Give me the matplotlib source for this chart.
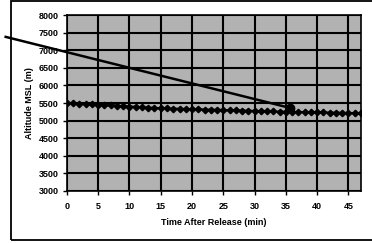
import matplotlib
matplotlib.use('Agg')
from matplotlib import pyplot as plt
from matplotlib.patches import Rectangle

# data
release_t = [-9.8, 35.7]
release_alt = [7380, 5360]

drift_t = list(range(0, 48))
drift_alt = [5500, 5490, 5480, 5470, 5460, 5450, 5440, 5430, 5420, 5410,
             5400, 5390, 5380, 5370, 5360, 5350, 5345, 5340, 5335, 5330,
             5325, 5320, 5315, 5310, 5305, 5300, 5295, 5290, 5285, 5280,
             5275, 5270, 5265, 5260, 5255, 5250, 5248, 5245, 5242, 5240,
             5236, 5232, 5228, 5224, 5220, 5216, 5212, 5208]

xticks = list(range(0, 50, 5))
yticks = list(range(3000, 8500, 500))

plt.rcParams['font.family'] = ['Liberation Sans', 'DejaVu Sans']

fig = plt.figure(figsize=(3.72, 2.43), dpi=100)
ax = fig.add_axes([0.180, 0.214, 0.790, 0.724])
ax.set_facecolor('#b2b2b2')

ax.plot(drift_t, drift_alt, color='black', lw=1.6, marker='D', ms=3.3, zorder=3)
ax.plot(release_t, release_alt, color='black', lw=1.8, clip_on=False, zorder=4)
ax.plot(release_t[-1:], release_alt[-1:], 'o', color='black', ms=6, zorder=5)

ax.set_xlim(0, 47)
ax.set_ylim(3000, 8000)
ax.set_xticks(xticks)
ax.set_yticks(yticks)
ax.grid(True, color='black', lw=1.5)
ax.set_axisbelow(True)
for s in ax.spines.values():
    s.set_color('black')
    s.set_linewidth(1.2)
ax.tick_params(direction='out', length=3, width=1, labelsize=6.5)
ax.tick_params(axis='x', pad=5)
ax.tick_params(axis='y', pad=3)
for lbl in ax.get_xticklabels() + ax.get_yticklabels():
    lbl.set_fontweight('bold')

ax.set_xlabel('Time After Release (min)', fontsize=6.5, fontweight='bold', labelpad=5)
ax.set_ylabel('Altitude MSL (m)', fontsize=6.5, fontweight='bold', labelpad=3)

# frame of the scanned figure
fig.patches.append(Rectangle((11 / 372, 3 / 243), 370 / 372, 239 / 243,
                             transform=fig.transFigure, fill=False,
                             edgecolor='black', lw=1.3))

fig.savefig('out.png', dpi=100)
